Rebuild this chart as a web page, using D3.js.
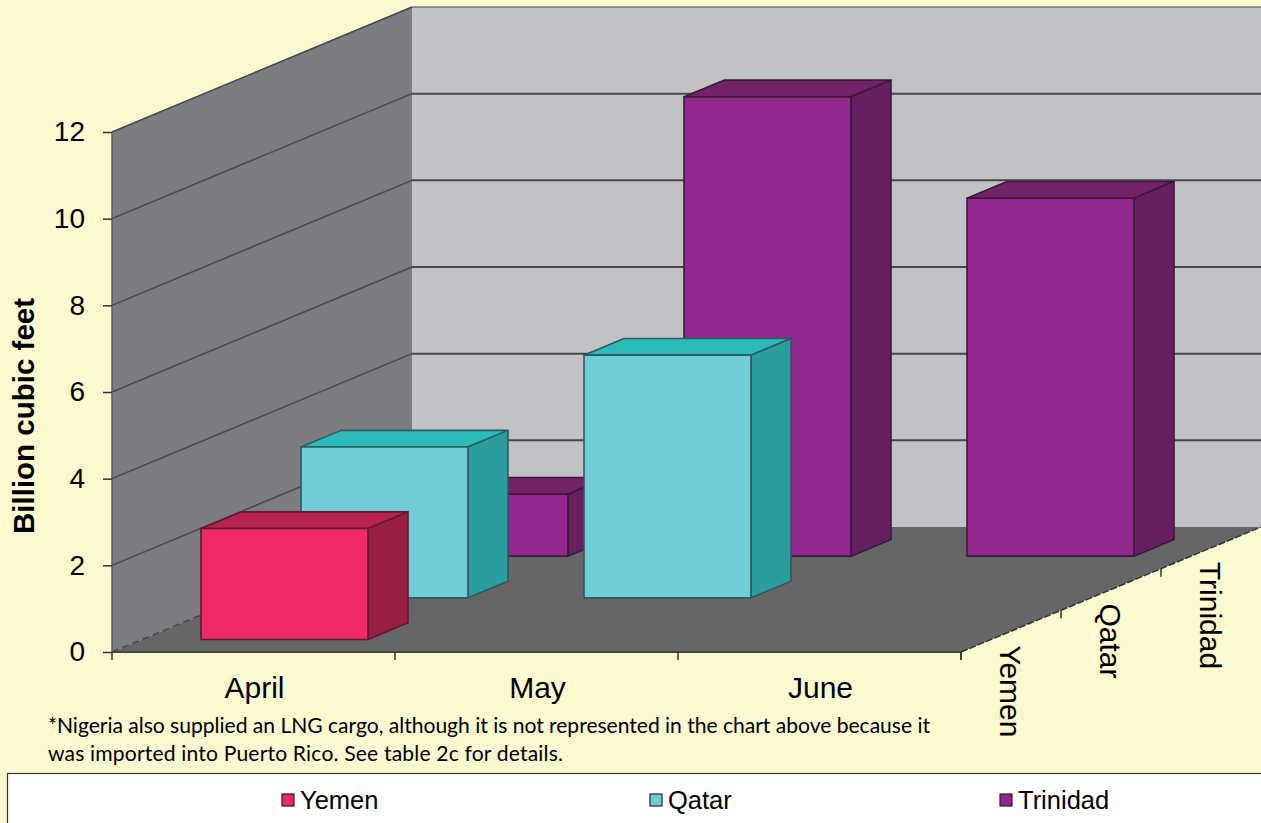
<!DOCTYPE html>
<html>
<head>
<meta charset="utf-8">
<script src="https://cdn.jsdelivr.net/npm/d3@7"></script>
<style>
  html, body { margin: 0; padding: 0; background: #fbf9cf; overflow: hidden; }
  svg { display: block; }
  text { font-family: "Liberation Sans", Arial, sans-serif; fill: #000; }
</style>
</head>
<body>
<svg id="chart" width="1261" height="823"></svg>
<script>
var months = ['April', 'May', 'June'];
var series = ['Yemen', 'Qatar', 'Trinidad'];
var yemen = [2.56, 0, 0];
var qatar = [3.48, 5.6, 0];
var trinidad = [1.43, 10.6, 8.26];
var valueTicks = [0, 2, 4, 6, 8, 10, 12];
var footnote = ['*Nigeria also supplied an LNG cargo, although it is not represented in the chart above  because it',
                'was imported into Puerto Rico. See table 2c for details.'];

var values = {Yemen: yemen, Qatar: qatar, Trinidad: trinidad};
var colors = {
    Yemen: {front: '#ee2a68', top: '#b8224e', side: '#981f42', edge: '#5e1a33'},
    Qatar: {front: '#72ccd8', top: '#2abbba', side: '#2b9d9f', edge: '#2c5a5e'},
    Trinidad: {front: '#92278d', top: '#732268', side: '#66205f', edge: '#3a1a3a'}
};

var chart = d3.select('#chart');

var x0 = 112, x1 = 961;
// bars sit a pixel right of the tick marks in the original
var x = d3.scaleBand().domain(months).range([x0 + 1, x1 + 1]).paddingInner(0.41).paddingOuter(0.205);
var y = d3.scaleLinear().domain([0, 12]).range([652, 132]);
var depth = d3.scaleBand().domain(series).range([0, 300]).paddingInner(0.6).paddingOuter(0.3);
var depthRise = 125 / 300;

// screen point for front-plane x, depth offset and value
function project(px, d, v) {
    return [px + d, y(v) - d * depthRise];
}
var line = d3.line();
function poly(points) {
    return line(points) + 'Z';
}

// walls and floor
var D = depth.range()[1];

chart.append('path')
    .attr('d', poly([project(x0, D, 0), project(x1, D, 0), project(x1, D, 12), project(x0, D, 12)]))
    .attr('fill', '#c1c2c6');
chart.append('path')
    .attr('d', poly([project(x0, 0, 0), project(x0, D, 0), project(x0, D, 12), project(x0, 0, 12)]))
    .attr('fill', '#7c7d81');
chart.append('path')
    .attr('d', poly([project(x0, 0, 0), project(x0, D, 0), project(x1, D, 0), project(x1, 0, 0)]))
    .attr('fill', '#666567');

// gridlines, back wall then left wall
chart.append('g').selectAll('path')
    .data(valueTicks.filter(d => d > 0))
    .enter()
    .append('path')
    .attr('d', d => line([project(x0, D, d), project(x1, D, d)]))
    .attr('stroke', '#47474b')
    .attr('stroke-width', d => d == 12 ? 1.2 : 2);
chart.append('g').selectAll('path')
    .data(valueTicks)
    .enter()
    .append('path')
    .attr('d', d => line([project(x0, 0, d), project(x0, D, d)]))
    .attr('stroke', '#47474b')
    .attr('stroke-width', 1.5)
    .attr('stroke-dasharray', d => d == 0 ? '7 4' : null);

chart.append('path')
    .attr('d', line([project(x0, 0, 0), project(x0, 0, 12)]))
    .attr('stroke', '#5c5d60')
    .attr('stroke-width', 1.5);

// bars, back to front
var bars = [];
series.slice().reverse().forEach(function(s) {
    months.forEach(function(m, i) {
        if (values[s][i] > 0) bars.push({series: s, month: m, value: values[s][i]});
    });
});

var bar = chart.append('g').selectAll('g')
    .data(bars)
    .enter()
    .append('g')
    .attr('stroke-linejoin', 'round')
    .attr('stroke-width', 1.6)
    .attr('stroke', d => colors[d.series].edge);

bar.append('path')
    .attr('fill', d => colors[d.series].top)
    .attr('d', function(d) {
        var a = x(d.month), b = a + x.bandwidth(), f = depth(d.series), g = f + depth.bandwidth();
        return poly([project(a, f, d.value), project(b, f, d.value), project(b, g, d.value), project(a, g, d.value)]);
    });
bar.append('path')
    .attr('fill', d => colors[d.series].side)
    .attr('d', function(d) {
        var b = x(d.month) + x.bandwidth(), f = depth(d.series), g = f + depth.bandwidth();
        return poly([project(b, f, 0), project(b, g, 0), project(b, g, d.value), project(b, f, d.value)]);
    });
bar.append('path')
    .attr('fill', d => colors[d.series].front)
    .attr('d', function(d) {
        var a = x(d.month), b = a + x.bandwidth(), f = depth(d.series);
        return poly([project(a, f, 0), project(b, f, 0), project(b, f, d.value), project(a, f, d.value)]);
    });

// value axis
var yAxis = chart.append('g')
    .attr('transform', 'translate(' + x0 + ',0)')
    .call(d3.axisLeft(y).tickValues(valueTicks).tickSize(9).tickPadding(18).tickFormat(d3.format('d')));
yAxis.select('.domain').remove();
yAxis.selectAll('line').attr('stroke', '#333').attr('stroke-width', 1.5);
yAxis.selectAll('text').attr('font-size', 28).attr('fill', '#000')
    .style('font-family', '"Liberation Sans", Arial, sans-serif');

chart.append('text')
    .attr('transform', 'translate(34,416) rotate(-90)')
    .attr('text-anchor', 'middle')
    .attr('font-size', 29.5)
    .attr('font-weight', 'bold')
    .text('Billion cubic feet');

// month axis
var xAxis = chart.append('g')
    .attr('transform', 'translate(0,652)')
    .call(d3.axisBottom(x).tickSize(0).tickPadding(25));
xAxis.select('.domain').attr('stroke', '#444').attr('stroke-width', 2)
    .attr('d', line([[x0, 0], [x1, 0]]));
xAxis.selectAll('text').attr('font-size', 30).attr('fill', '#000')
    .style('font-family', '"Liberation Sans", Arial, sans-serif');
xAxis.selectAll('.step')
    .data(d3.range(months.length + 1))
    .enter()
    .append('line')
    .attr('x1', d => x0 + d * x.step())
    .attr('x2', d => x0 + d * x.step())
    .attr('y2', 8)
    .attr('stroke', '#333')
    .attr('stroke-width', 1.5);

// depth axis
chart.append('path')
    .attr('d', line([project(x1, 0, 0), project(x1, D, 0)]))
    .attr('stroke', '#333')
    .attr('stroke-width', 1.5)
    .attr('stroke-dasharray', '7 2');
chart.append('g').selectAll('line')
    .data(series)
    .enter()
    .append('line')
    .attr('x1', d => project(x1, depth(d) - depth.step() * 0.3, 0)[0])
    .attr('x2', d => project(x1, depth(d) - depth.step() * 0.3, 0)[0])
    .attr('y1', d => project(x1, depth(d) - depth.step() * 0.3, 0)[1])
    .attr('y2', d => project(x1, depth(d) - depth.step() * 0.3, 0)[1] + 8)
    .attr('stroke', '#333')
    .attr('stroke-width', 1.5);
chart.append('g').selectAll('text')
    .data(series)
    .enter()
    .append('text')
    .attr('transform', function(d) {
        var p = project(x1, depth(d) + depth.bandwidth() / 2, 0);
        return 'translate(' + (p[0] - 11) + ',' + (p[1] + 14) + ') rotate(90)';
    })
    .attr('font-size', 30)
    .text(d => d);

// footnote, each line fitted to the width it has in the original
chart.append('g').selectAll('text')
    .data(footnote)
    .enter()
    .append('text')
    .attr('x', 48)
    .attr('y', (d, i) => 733 + i * 28)
    .attr('font-size', 21.1)
    .attr('textLength', (d, i) => i == 0 ? 882 : 515)
    .style('font-family', 'Lato, sans-serif')
    .text(d => d);

// legend
chart.append('rect')
    .attr('x', 7.5).attr('y', 773.5)
    .attr('width', 1300).attr('height', 100)
    .attr('fill', '#fff')
    .attr('stroke', '#333')
    .attr('stroke-width', 1.2);

var legendX = d3.scaleOrdinal().domain(series).range([282, 650, 1000]);
var legend = chart.append('g').selectAll('g')
    .data(series)
    .enter()
    .append('g')
    .attr('transform', d => 'translate(' + legendX(d) + ',794)');
legend.append('rect')
    .attr('width', 12).attr('height', 12)
    .attr('fill', d => colors[d].front)
    .attr('stroke', '#222')
    .attr('stroke-width', 1.2);
legend.append('text')
    .attr('x', 18)
    .attr('y', 15)
    .attr('font-size', 25.5)
    .text(d => d);
</script>
</body>
</html>
